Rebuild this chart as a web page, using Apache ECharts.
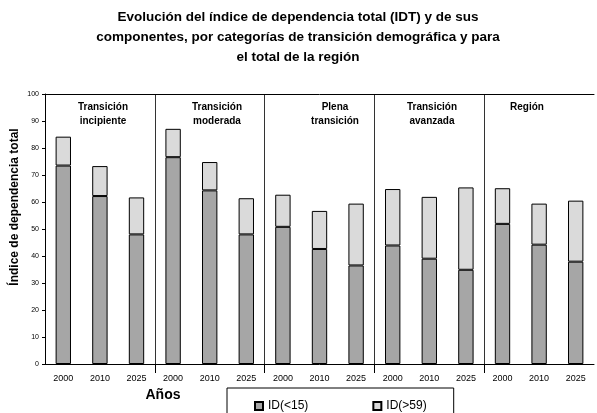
<!DOCTYPE html>
<html>
<head>
    <meta charset="UTF-8">
    <title>IDT</title>
    <script src="https://cdn.jsdelivr.net/npm/echarts@6/dist/echarts.min.js"></script>
    <style>
        body { margin: 0; background: #fff; }
    </style>
</head>
<body>
    <div id="chart" style="width:597px; height:413px;"></div>
    <script>
        // datos
        var grupos = ['Transición\nincipiente', 'Transición\nmoderada', 'Plena\ntransición', 'Transición\navanzada', 'Región'];
        var anios = ['2000', '2010', '2025'];
        var idMenor15 = [73.5, 62.2, 48.0, 76.6, 64.3, 48.0, 50.8, 42.6, 36.5, 43.9, 39.0, 34.9, 51.9, 44.2, 37.9];
        var idMayor59 = [10.7, 11.1, 13.7, 10.5, 10.5, 13.4, 11.9, 14.1, 22.9, 20.9, 22.9, 30.5, 13.2, 15.2, 22.6];
        var yTicks = [0, 100, 10];
        var titulo = 'Evolución del índice de dependencia total (IDT) y de sus\ncomponentes, por categorías de transición demográfica y para\nel total de la región';

        var categorias = [];
        grupos.forEach(function () {
            anios.forEach(function (a) { categorias.push(a); });
        });

        // posiciones: separadores entre grupos y centros de cada barra (eje auxiliar 0..n)
        var separadores = [];
        for (var s = anios.length; s < categorias.length; s += anios.length) separadores.push(s);
        var centros = categorias.map(function (c, i) { return i + 0.5; });

        var fuente = 'Liberation Sans, Arial, sans-serif';
        var posGrupos = [103, 217, 335, 432, 527];

        var chart = echarts.init(document.getElementById('chart'), null, {renderer: 'canvas'});
        var option = {
            animation: false,
            textStyle: {fontFamily: fuente},
            legend: {
                data: ['ID(<15)', 'ID(>59)'],
                left: 227,
                top: 388,
                icon: 'rect',
                itemWidth: 8,
                itemHeight: 8,
                itemGap: 64,
                padding: [12, 27, 14, 27],
                borderColor: '#000',
                borderWidth: 1,
                textStyle: {fontSize: 12, color: '#000', fontFamily: fuente}
            },
            grid: {left: 45, right: 3, top: 94, bottom: 49},
            xAxis: [{
                // eje inferior: separadores, marcas y años
                type: 'value',
                position: 'bottom',
                min: 0,
                max: categorias.length,
                interval: anios.length,
                axisLine: {show: true, lineStyle: {color: '#000', width: 1}},
                axisTick: {show: true, length: 9, customValues: separadores, lineStyle: {color: '#000'}},
                splitLine: {show: true, lineStyle: {color: '#333', width: 1}},
                axisLabel: {
                    fontSize: 9, color: '#000', margin: 10,
                    customValues: centros,
                    formatter: function (v) { return categorias[Math.floor(v)]; }
                }
            }, {
                type: 'category',
                position: 'top',
                data: categorias,
                axisLine: {show: true, lineStyle: {color: '#000', width: 1}},
                axisTick: {show: false},
                axisLabel: {show: false}
            }],
            yAxis: {
                type: 'value',
                min: yTicks[0],
                max: yTicks[1],
                interval: yTicks[2],
                axisLine: {show: true, lineStyle: {color: '#000'}},
                axisTick: {show: true, length: 3, lineStyle: {color: '#000'}},
                splitLine: {show: false},
                axisLabel: {fontSize: 7, color: '#000', margin: 6}
            },
            series: [{
                name: 'ID(<15)',
                type: 'bar',
                stack: 'idt',
                xAxisIndex: 1,
                barWidth: '42%',
                data: idMenor15,
                itemStyle: {color: '#a6a6a6', borderColor: '#000', borderWidth: 1}
            }, {
                name: 'ID(>59)',
                type: 'bar',
                stack: 'idt',
                xAxisIndex: 1,
                barWidth: '42%',
                data: idMayor59,
                itemStyle: {color: '#dadada', borderColor: '#000', borderWidth: 1}
            }],
            graphic: grupos.map(function (g, i) {
                return {
                    type: 'text',
                    x: posGrupos[i],
                    y: 100,
                    style: {
                        text: g,
                        align: 'center',
                        verticalAlign: 'top',
                        font: 'bold 10px ' + fuente,
                        lineHeight: 14,
                        fill: '#000'
                    }
                };
            }).concat([{
                type: 'text',
                x: 298,
                y: 7,
                style: {
                    text: titulo,
                    align: 'center',
                    verticalAlign: 'top',
                    font: 'bold 13.5px ' + fuente,
                    lineHeight: 20,
                    fill: '#000'
                }
            }, {
                type: 'text',
                x: 163,
                y: 395,
                style: {
                    text: 'Años',
                    align: 'center',
                    verticalAlign: 'middle',
                    font: 'bold 14px ' + fuente,
                    fill: '#000'
                }
            }, {
                type: 'text',
                x: 15,
                y: 207,
                rotation: Math.PI / 2,
                style: {
                    text: 'Índice de dependencia total',
                    align: 'center',
                    verticalAlign: 'middle',
                    font: 'bold 12px ' + fuente,
                    fill: '#000'
                }
            }])
        };
        chart.setOption(option);
    </script>
</body>
</html>
